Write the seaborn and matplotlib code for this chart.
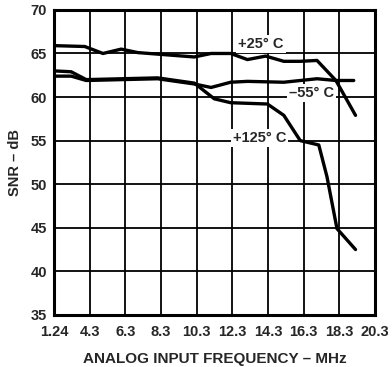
import matplotlib
matplotlib.use("Agg")
import matplotlib.pyplot as plt
import pandas as pd
import seaborn as sns

# x positions are in tick-slot units (the axis is evenly spaced, labels are not)
tick_labels = ["1.24", "4.3", "6.3", "8.3", "10.3", "12.3", "14.3", "16.3", "18.3", "20.3"]

x_25 = [0.0, 0.86, 1.37, 1.88, 2.35, 3.93, 4.4, 4.95, 5.42, 5.93, 6.44, 6.9, 7.37, 7.9, 8.45]
snr_25 = [65.9, 65.8, 65.0, 65.5, 65.1, 64.6, 65.0, 65.0, 64.3, 64.7, 64.1, 64.1, 64.2, 61.9, 57.9]

x_m55 = [0.0, 0.48, 0.9, 2.9, 3.93, 4.4, 4.95, 5.42, 6.44, 7.37, 7.9, 8.4]
snr_m55 = [62.4, 62.4, 61.9, 62.1, 61.5, 61.1, 61.7, 61.8, 61.7, 62.1, 61.9, 61.9]

x_125 = [0.0, 0.48, 0.9, 2.9, 3.93, 4.49, 4.95, 5.98, 6.44, 6.9, 7.42, 7.65, 7.93, 8.45]
snr_125 = [63.0, 62.9, 62.0, 62.2, 61.6, 59.8, 59.35, 59.2, 57.9, 55.0, 54.5, 50.85, 44.9, 42.5]

frames = []
for name, xs, ys in [("+25", x_25, snr_25), ("-55", x_m55, snr_m55), ("+125", x_125, snr_125)]:
    frames.append(pd.DataFrame({"slot": xs, "snr": ys, "temp": name}))
df = pd.concat(frames, ignore_index=True)

sns.set_style("white")
plt.rcParams["font.family"] = ["Liberation Sans", "DejaVu Sans"]
plt.rcParams["font.weight"] = "bold"

fig = plt.figure(figsize=(3.92, 3.67), dpi=100)
ax = fig.add_axes([0.138, 0.142, 0.819, 0.831])

ax.grid(True, color="black", linewidth=1.3)
ax.set_axisbelow(True)

sns.lineplot(
    data=df,
    x="slot",
    y="snr",
    units="temp",
    estimator=None,
    sort=False,
    color="black",
    linewidth=2.4,
    ax=ax
)

fs = 10.5

ax.set_xlim(0, 9)
ax.set_ylim(35, 70)
ax.set_xticks(range(10))
ax.set_xticklabels(tick_labels)
ax.set_yticks(range(35, 71, 5))
ax.tick_params(axis="x", length=0, pad=7, labelsize=fs)
ax.tick_params(axis="y", length=0, pad=5, labelsize=fs)
for lab in ax.get_xticklabels() + ax.get_yticklabels():
    lab.set_fontweight("bold")

for side in ["left", "right", "top", "bottom"]:
    ax.spines[side].set_visible(True)
    ax.spines[side].set_color("black")
    ax.spines[side].set_linewidth(2.2)

ax.set_xlabel("ANALOG INPUT FREQUENCY – MHz", fontsize=11, fontweight="bold", labelpad=10)
ax.set_ylabel("SNR – dB", fontsize=fs, fontweight="bold", labelpad=6)

box = dict(facecolor="white", edgecolor="none", pad=1.5)
ax.text(5.8, 66.1, "+25° C", fontsize=fs, fontweight="bold", ha="center", va="center", bbox=box)
ax.text(7.22, 60.5, "–55° C", fontsize=fs, fontweight="bold", ha="center", va="center", bbox=box)
ax.text(5.76, 55.25, "+125° C", fontsize=fs, fontweight="bold", ha="center", va="center", bbox=box)

fig.savefig("out.png", dpi=100)
plt.close(fig)
